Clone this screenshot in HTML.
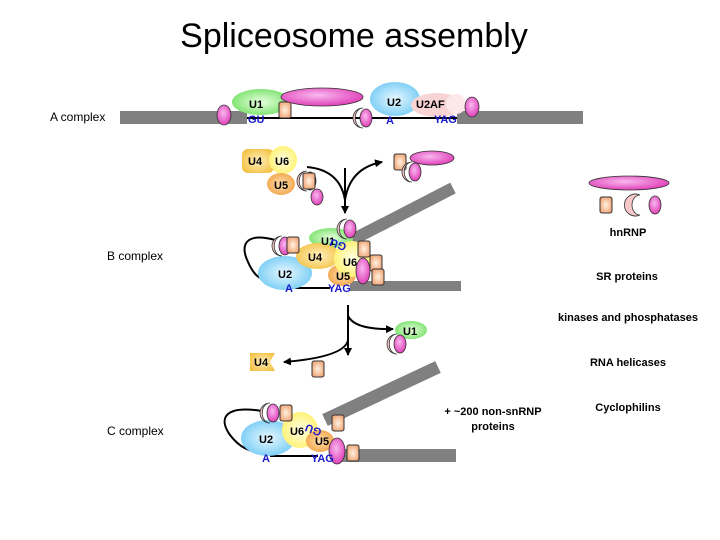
<!DOCTYPE html>
<html><head><meta charset="utf-8"><style>
body{margin:0;background:#fff}
svg{display:block}
text{font-family:"Liberation Sans",sans-serif}
.b{font-weight:bold;font-size:11px;fill:#000}
.bl{font-weight:bold;font-size:11px;fill:#1a1acc}
.lab{font-size:12px;fill:#000}
</style></head><body>
<svg width="720" height="540" viewBox="0 0 720 540">
<defs>
<radialGradient id="pk" cx="45%" cy="40%" r="60%"><stop offset="0" stop-color="#f9b8ef"/><stop offset="1" stop-color="#e040b8"/></radialGradient>
<radialGradient id="sq" cx="50%" cy="50%" r="60%"><stop offset="0" stop-color="#fff2e0"/><stop offset="1" stop-color="#f0a070"/></radialGradient>
<radialGradient id="gr" cx="50%" cy="50%" r="60%"><stop offset="0" stop-color="#e8ffe0"/><stop offset="1" stop-color="#70e060"/></radialGradient>
<radialGradient id="bu" cx="50%" cy="50%" r="60%"><stop offset="0" stop-color="#e8f8ff"/><stop offset="1" stop-color="#6cc8f4"/></radialGradient>
<radialGradient id="ye" cx="50%" cy="50%" r="60%"><stop offset="0" stop-color="#ffffe8"/><stop offset="1" stop-color="#fff060"/></radialGradient>
<radialGradient id="or" cx="50%" cy="50%" r="60%"><stop offset="0" stop-color="#fff0c0"/><stop offset="1" stop-color="#f4c040"/></radialGradient>
<radialGradient id="o5" cx="50%" cy="50%" r="60%"><stop offset="0" stop-color="#ffe0b0"/><stop offset="1" stop-color="#f0a040"/></radialGradient>
<marker id="ar" markerUnits="userSpaceOnUse" markerWidth="10" markerHeight="10" refX="7" refY="4" orient="auto"><path d="M0,0 L8,4 L0,8 Z" fill="#000"/></marker>
<g id="sqr"><rect x="-6" y="-8" width="12" height="16" rx="2" fill="url(#sq)" stroke="#333" stroke-width="1"/></g>
<g id="cre"><path d="M2,-10 A10,10 0 1 0 2,10 A7,9 0 1 1 2,-10 Z" fill="#f8c8c8" stroke="#333" stroke-width="0.8"/><ellipse cx="5" cy="0" rx="6" ry="9" fill="url(#pk)" stroke="#333" stroke-width="0.8"/></g>
</defs>
<text x="354" y="47" text-anchor="middle" font-size="34">Spliceosome assembly</text>

<!-- A complex -->
<text x="50" y="121" class="lab">A complex</text>
<rect x="120" y="111" width="127" height="13" fill="#808080"/>
<rect x="457" y="111" width="126" height="13" fill="#808080"/>
<line x1="247" y1="118" x2="457" y2="118" stroke="#000" stroke-width="2"/>
<ellipse cx="224" cy="115" rx="7" ry="10" fill="url(#pk)" stroke="#333" stroke-width="0.8"/>
<ellipse cx="261" cy="102" rx="29" ry="13" fill="url(#gr)"/>
<text x="249" y="108" class="b" font-size="12">U1</text>
<use href="#sqr" x="285" y="110"/>
<ellipse cx="322" cy="97" rx="41" ry="9" fill="url(#pk)" stroke="#333" stroke-width="0.8"/>
<use href="#cre" x="361" y="118"/>
<ellipse cx="395" cy="99" rx="25" ry="17" fill="url(#bu)"/>
<text x="387" y="106" class="b" font-size="12">U2</text>
<ellipse cx="437" cy="105" rx="26" ry="12" fill="#f8d4d4"/>
<ellipse cx="456" cy="104" rx="10" ry="10" fill="#fce8e8"/>
<text x="416" y="108" class="b" font-size="12">U2AF</text>
<ellipse cx="472" cy="107" rx="7" ry="10" fill="url(#pk)" stroke="#333" stroke-width="0.8"/>
<text x="248" y="123" class="bl">GU</text>
<text x="386" y="124" class="bl">A</text>
<text x="434" y="123" class="bl">YAG</text>

<!-- free U4/U6/U5 -->
<rect x="242" y="149" width="32" height="24" rx="6" fill="url(#or)"/>
<text x="248" y="165" class="b">U4</text>
<circle cx="283" cy="160" r="14" fill="url(#ye)"/>
<text x="275" y="165" class="b">U6</text>
<ellipse cx="281" cy="184" rx="14" ry="11" fill="url(#o5)"/>
<text x="274" y="189" class="b">U5</text>
<use href="#cre" x="305" y="181"/>
<use href="#sqr" x="309" y="181"/>
<ellipse cx="317" cy="197" rx="6" ry="8" fill="url(#pk)" stroke="#333" stroke-width="0.8"/>
<path d="M307,167 Q340,170 345,200" fill="none" stroke="#000" stroke-width="2"/>
<path d="M345,200 Q350,168 382,162" fill="none" stroke="#000" stroke-width="2" marker-end="url(#ar)"/>
<line x1="345" y1="168" x2="345" y2="213" stroke="#000" stroke-width="2" marker-end="url(#ar)"/>
<use href="#sqr" x="400" y="162"/>
<ellipse cx="432" cy="158" rx="22" ry="7" fill="url(#pk)" stroke="#333" stroke-width="0.8"/>
<use href="#cre" x="410" y="172"/>

<!-- right column -->
<ellipse cx="629" cy="183" rx="40" ry="7" fill="url(#pk)" stroke="#333" stroke-width="0.8"/>
<use href="#sqr" x="606" y="205"/>
<path d="M640,195 A11,11 0 1 0 640,215 A8,10 0 1 1 640,195 Z" fill="#f8c8c8" stroke="#333" stroke-width="0.8"/>
<ellipse cx="655" cy="205" rx="6" ry="9" fill="url(#pk)" stroke="#333" stroke-width="0.8"/>
<text x="628" y="236" text-anchor="middle" class="b" font-size="10">hnRNP</text>
<text x="627" y="280" text-anchor="middle" class="b" font-size="10">SR proteins</text>
<text x="628" y="321" text-anchor="middle" class="b" font-size="10">kinases and phosphatases</text>
<text x="628" y="366" text-anchor="middle" class="b" font-size="10">RNA helicases</text>
<text x="628" y="411" text-anchor="middle" class="b" font-size="10">Cyclophilins</text>
<text x="493" y="415" text-anchor="middle" class="b" font-size="10">+ ~200 non-snRNP</text>
<text x="493" y="430" text-anchor="middle" class="b" font-size="10">proteins</text>

<!-- B complex -->
<text x="107" y="260" class="lab">B complex</text>
<line x1="352" y1="240" x2="453" y2="188" stroke="#808080" stroke-width="12"/>
<rect x="350" y="281" width="111" height="10" fill="#808080"/>
<path d="M275,240 C245,232 240,245 248,262 C255,278 262,280 270,280" fill="none" stroke="#000" stroke-width="2"/>
<line x1="290" y1="288" x2="330" y2="288" stroke="#000" stroke-width="2"/>
<ellipse cx="285" cy="273" rx="27" ry="17" fill="url(#bu)"/>
<text x="278" y="278" class="b">U2</text>
<ellipse cx="331" cy="238" rx="22" ry="10" fill="url(#gr)"/>
<ellipse cx="318" cy="256" rx="22" ry="13" fill="url(#or)"/>
<ellipse cx="342" cy="275" rx="14" ry="11" fill="url(#o5)"/>
<circle cx="352" cy="259" r="18" fill="url(#ye)"/>
<text x="321" y="245" class="b">U1</text>
<text x="308" y="261" class="b">U4</text>
<text x="343" y="266" class="b">U6</text>
<text x="336" y="280" class="b">U5</text>
<text x="336" y="250" class="bl" transform="rotate(200 341 246)">GU</text>
<use href="#cre" x="280" y="246"/>
<use href="#sqr" x="293" y="245"/>
<use href="#cre" x="345" y="229"/>
<use href="#sqr" x="364" y="249"/>
<use href="#sqr" x="376" y="263"/>
<use href="#sqr" x="378" y="277"/>
<ellipse cx="363" cy="271" rx="7" ry="13" fill="url(#pk)" stroke="#333" stroke-width="0.8"/>
<text x="285" y="292" class="bl">A</text>
<text x="328" y="292" class="bl">YAG</text>

<!-- second arrow -->
<line x1="348" y1="305" x2="348" y2="355" stroke="#000" stroke-width="2" marker-end="url(#ar)"/>
<path d="M348,316 Q355,330 393,329" fill="none" stroke="#000" stroke-width="2" marker-end="url(#ar)"/>
<path d="M348,340 Q345,357 284,362" fill="none" stroke="#000" stroke-width="2" marker-end="url(#ar)"/>
<ellipse cx="411" cy="330" rx="16" ry="9" fill="url(#gr)"/>
<text x="403" y="335" class="b">U1</text>
<use href="#cre" x="395" y="344"/>
<path d="M250,353 H275 L270,362 L275,371 H250 Z" fill="url(#or)"/>
<text x="254" y="366" class="b">U4</text>
<use href="#sqr" x="318" y="369"/>

<!-- C complex -->
<text x="107" y="435" class="lab">C complex</text>
<line x1="325" y1="420" x2="438" y2="367" stroke="#808080" stroke-width="13"/>
<rect x="335" y="449" width="121" height="13" fill="#808080"/>
<path d="M262,411 C225,405 218,418 230,435 C240,448 250,452 262,452" fill="none" stroke="#000" stroke-width="2"/>
<line x1="270" y1="456" x2="318" y2="456" stroke="#000" stroke-width="2"/>
<ellipse cx="268" cy="438" rx="27" ry="18" fill="url(#bu)"/>
<text x="259" y="443" class="b">U2</text>
<circle cx="300" cy="430" r="18" fill="url(#ye)"/>
<ellipse cx="320" cy="441" rx="14" ry="11" fill="url(#o5)"/>
<text x="290" y="435" class="b">U6</text>
<text x="315" y="445" class="b">U5</text>
<text x="309" y="437" class="bl" transform="rotate(200 315 432)">GU</text>
<use href="#cre" x="268" y="413"/>
<use href="#sqr" x="286" y="413"/>
<use href="#sqr" x="338" y="423"/>
<use href="#sqr" x="353" y="453"/>
<ellipse cx="337" cy="451" rx="8" ry="13" fill="url(#pk)" stroke="#333" stroke-width="0.8"/>
<text x="262" y="462" class="bl">A</text>
<text x="311" y="462" class="bl">YAG</text>
</svg>
</body></html>
